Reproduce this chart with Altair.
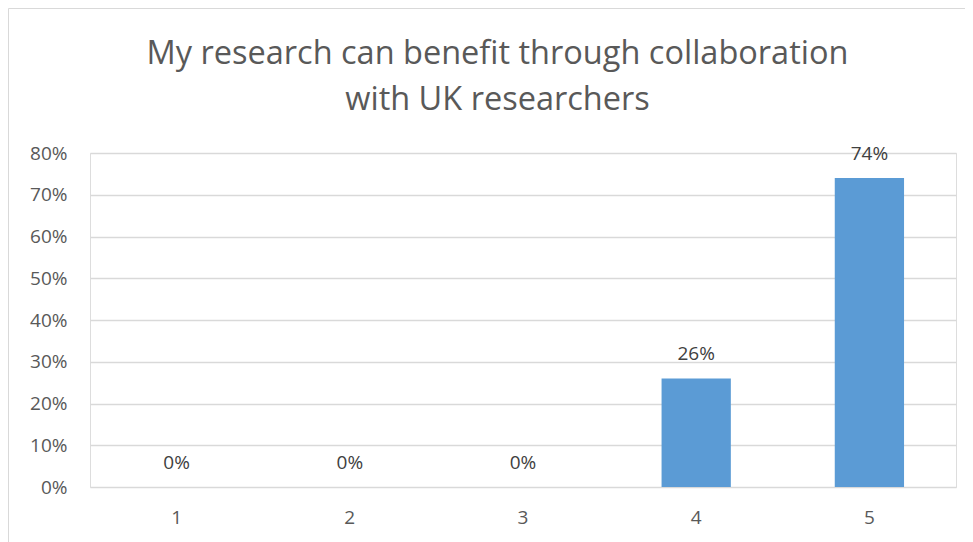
import altair as alt
import pandas as pd

categories = ["1", "2", "3", "4", "5"]
shares = [0.0, 0.0, 0.0, 0.26, 0.74]
y_ticks = [0, 0.1, 0.2, 0.3, 0.4, 0.5, 0.6, 0.7, 0.8]
title_lines = ["My research can benefit through collaboration", "with UK researchers"]

df = pd.DataFrame({"cat": categories, "share": shares})

FONT = "Open Sans"

x_enc = alt.X("cat:N", sort=categories, title=None,
              scale=alt.Scale(paddingInner=0.6, paddingOuter=0.3),
              axis=alt.Axis(labelAngle=0, domain=False, ticks=False, tickSize=0,
                            labelPadding=21, labelFontSize=19, labelColor="#595959",
                            labelFont=FONT, grid=False))
y_enc = alt.Y("share:Q", title=None,
              scale=alt.Scale(domain=[0, 0.8], nice=False),
              axis=alt.Axis(values=y_ticks, format=".0%", domain=False, ticks=False,
                            tickSize=0, labelPadding=23, labelFontSize=19,
                            labelColor="#595959", labelFont=FONT,
                            gridColor="#d9d9d9", gridWidth=1.5))

base = alt.Chart(df)

bars = base.mark_bar(color="#5b9bd5").encode(x=x_enc, y=y_enc)

labels = base.mark_text(baseline="middle", dy=-24, fontSize=19, color="#404040",
                        font=FONT).encode(
    x=alt.X("cat:N", sort=categories),
    y="share:Q",
    text=alt.Text("share:Q", format=".0%"),
)

frame_df = pd.DataFrame({"f": [0]})
frame_top = alt.Chart(frame_df).mark_rule(
    stroke="#d9d9d9", strokeWidth=1, clip=False
).encode(x=alt.value(-81.5), x2=alt.value(900), y=alt.value(-144.5))
frame_left = alt.Chart(frame_df).mark_rule(
    stroke="#d9d9d9", strokeWidth=1, clip=False
).encode(x=alt.value(-81.5), y=alt.value(-144.5), y2=alt.value(440))

chart = alt.layer(frame_top, frame_left, bars, labels).properties(
    width=866,
    height=334,
    title=alt.TitleParams(text=title_lines, fontSize=32.5, font=FONT,
                          fontWeight="normal", color="#595959", lineHeight=46,
                          anchor="middle", frame="group", baseline="bottom",
                          dx=-25.5, dy=141, offset=0),
    autosize=alt.AutoSizeParams(type="none"),
    padding={"left": 82, "top": 145, "right": 9, "bottom": 55},
).configure_view(stroke=None).configure(background="white")

chart.save("out.html", embed_options={"renderer": "svg", "actions": False})
